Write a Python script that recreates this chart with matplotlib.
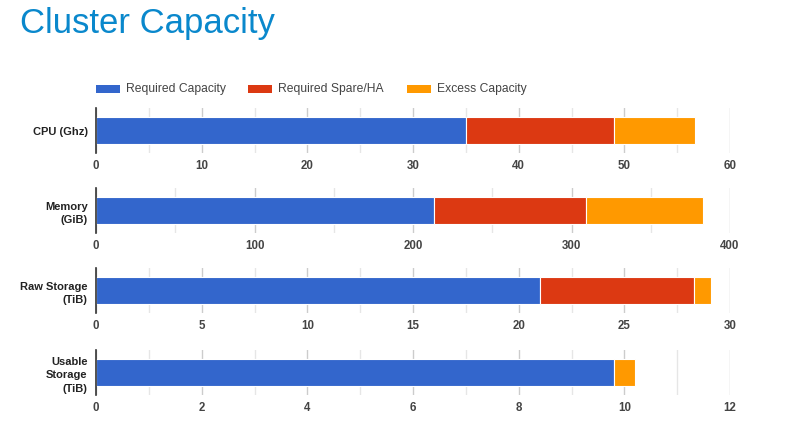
import numpy as np
import matplotlib
matplotlib.use('Agg')
import matplotlib.pyplot as plt
from matplotlib.patches import Rectangle

#%% Data
categories = ['CPU (Ghz)', 'Memory\n(GiB)', 'Raw Storage\n(TiB)', 'Usable\nStorage\n(TiB)']
required = [35, 213, 21, 9.8]
spare = [14, 96, 7.3, 0]
excess = [7.7, 74, 0.8, 0.4]
axis_max = [60, 400, 30, 12]
tick_step = [10, 100, 5, 2]

series_names = ['Required Capacity', 'Required Spare/HA', 'Excess Capacity']
colors = ['#3366cc', '#dc3912', '#ff9900']

plt.rcParams['font.family'] = ['Liberation Sans', 'DejaVu Sans']

fig = plt.figure(figsize=(8, 4.32), dpi=100)

# Title
fig.text(20 / 800, 1 - 33 / 432, 'Cluster Capacity', fontsize=25, color='#0a88cc',
         va='baseline', ha='left')

# Legend drawn by hand to sit where the original does
legend_x = [96, 248, 407]
for name, col, lx in zip(series_names, colors, legend_x):
    fig.patches.append(Rectangle((lx / 800, 1 - 93 / 432), 24 / 800, 8 / 432,
                                 transform=fig.transFigure, facecolor=col, edgecolor='none'))
    fig.text((lx + 30) / 800, 1 - 89 / 432, name, fontsize=8.7, color='#444444',
             va='center', ha='left')

#%% One small axes per resource
axes_bottom_px = [153, 233, 313, 395]
axes_height_px = 45

for i, cat in enumerate(categories):
    ax = fig.add_axes([96 / 800, 1 - axes_bottom_px[i] / 432, 634 / 800, axes_height_px / 432])

    left = 0
    for vals, col in zip([required, spare, excess], colors):
        v = vals[i]
        if v > 0:
            ax.barh(0, v, left=left, height=0.6, color=col, edgecolor='white', linewidth=0.8, zorder=3)
        left += v

    ax.set_xlim(0, axis_max[i])
    ax.set_ylim(-0.5, 0.5)

    major = np.arange(0, axis_max[i] + tick_step[i], tick_step[i])
    minor = np.arange(tick_step[i] / 2, axis_max[i], tick_step[i])
    ax.set_xticks(major)
    ax.set_xticks(minor, minor=True)
    ax.set_xticklabels([f'{m:g}' for m in major], fontsize=8.3, fontweight='bold', color='#444444')
    ax.grid(axis='x', which='major', color='#cccccc', linewidth=1, zorder=0)
    ax.grid(axis='x', which='minor', color='#e6e6e6', linewidth=1, zorder=0)
    ax.tick_params(axis='x', which='both', length=0, pad=5)

    ax.set_yticks([0])
    ax.set_yticklabels([cat], fontsize=8, fontweight='bold', color='#222222', linespacing=1.45)
    ax.tick_params(axis='y', length=0, pad=6)

    for s in ['top', 'right', 'bottom']:
        ax.spines[s].set_visible(False)
    ax.spines['left'].set_color('#333333')
    ax.spines['left'].set_linewidth(1.2)
    ax.spines['left'].set_zorder(4)

fig.savefig('out.png', dpi=100)
